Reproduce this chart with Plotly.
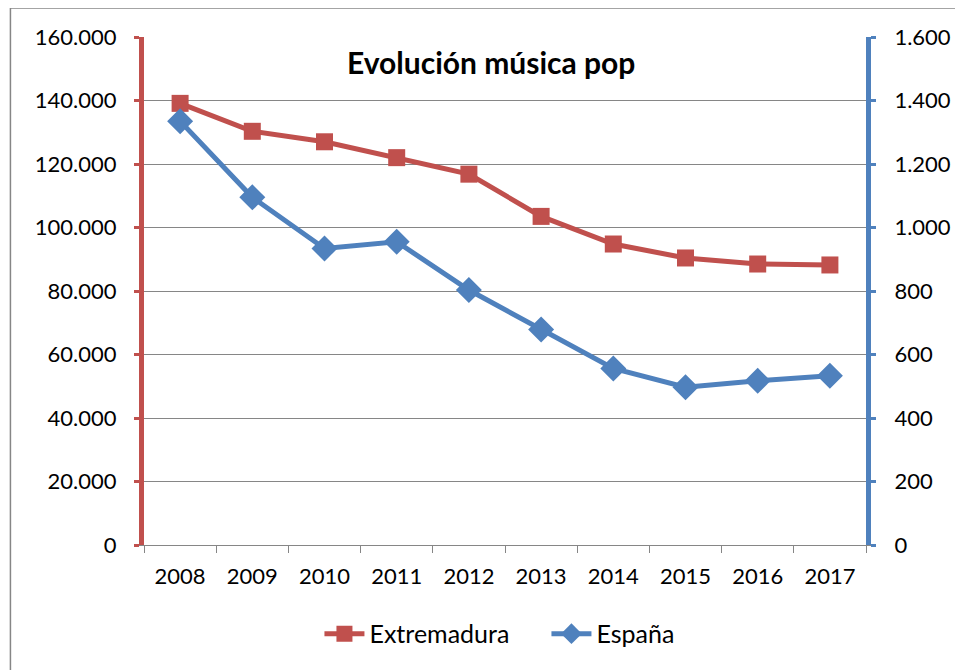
import plotly.graph_objects as go

years = ["2008", "2009", "2010", "2011", "2012", "2013", "2014", "2015", "2016", "2017"]
extremadura = [139100, 130300, 127000, 122000, 116800, 103500, 94800, 90400, 88500, 88200]
espana = [1335, 1095, 934, 955, 803, 679, 556, 497, 517, 533]

RED = "#C0504D"
BLUE = "#4F81BD"
FONT = "Lato, Carlito, Calibri, sans-serif"

fig = go.Figure()
fig.add_trace(go.Scatter(
    x=years, y=extremadura, name="Extremadura", mode="lines+markers",
    line=dict(color=RED, width=5),
    marker=dict(symbol="square", size=17, color=RED),
    yaxis="y",
))
fig.add_trace(go.Scatter(
    x=years, y=espana, name="España", mode="lines+markers",
    line=dict(color=BLUE, width=5),
    marker=dict(symbol="diamond", size=20, color=BLUE),
    yaxis="y2",
))

fig.update_layout(
    width=955, height=662,
    margin=dict(l=136, r=97, t=29, b=125),
    paper_bgcolor="white", plot_bgcolor="white",
    separators=",.",
    font=dict(family=FONT, size=22, color="black"),
    showlegend=True,
    legend=dict(orientation="h", x=0.243, xanchor="left", y=-0.175, yanchor="middle",
                font=dict(size=25), itemwidth=40, tracegroupgap=0,
                entrywidth=172, entrywidthmode="pixels"),
    xaxis=dict(
        type="category", showgrid=False, showline=True, linecolor="#868686", linewidth=1,
        ticks="outside", tickson="boundaries", ticklen=7, tickcolor="#868686",
        tickfont=dict(size=22), range=[-0.5, 9.5], ticklabelstandoff=12,
    ),
    yaxis=dict(
        range=[0, 160000], dtick=20000, tickformat=",d",
        showgrid=True, gridcolor="#868686", gridwidth=1,
        showline=True, linecolor=RED, linewidth=5,
        ticks="outside", ticklen=5, tickcolor=RED, tickwidth=3,
        tickfont=dict(size=22), zeroline=False, ticklabelstandoff=13,
    ),
    yaxis2=dict(
        range=[0, 1600], dtick=200, tickformat=",d", overlaying="y", side="right",
        showgrid=False, showline=True, linecolor=BLUE, linewidth=5,
        ticks="outside", ticklen=5, tickcolor=BLUE, tickwidth=3,
        tickfont=dict(size=22), zeroline=False, ticklabelstandoff=14,
    ),
    annotations=[dict(
        text="<b>Evolución música pop</b>", xref="paper", yref="paper",
        x=0.48, y=0.951, xanchor="center", yanchor="middle", showarrow=False,
        font=dict(size=30, family=FONT, color="black"),
    )],
    shapes=[dict(
        type="rect", xref="paper", yref="paper",
        x0=-0.185, x1=1.3, y0=-0.5, y1=1.0571,
        line=dict(color="#868686", width=1.5), fillcolor="rgba(0,0,0,0)", layer="below",
    )],
)

fig.write_html("out.html")
